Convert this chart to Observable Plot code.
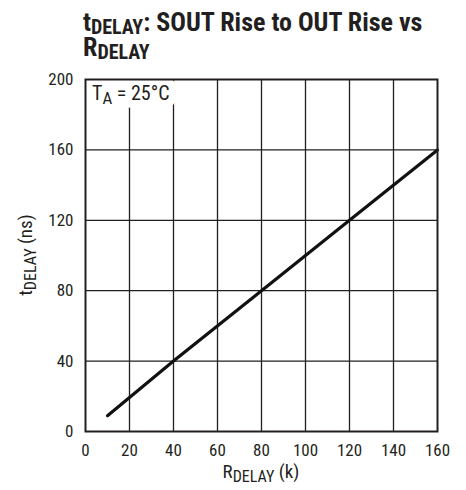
<!DOCTYPE html>
<html><head><meta charset="utf-8">
<script src="https://cdn.jsdelivr.net/npm/d3@7"></script>
<script src="https://cdn.jsdelivr.net/npm/@observablehq/plot@0.6"></script>
<style>
body{margin:0;background:#fff;font-family:"Roboto Condensed",sans-serif;color:#231f20;}
#title{height:70px;box-sizing:border-box;padding-left:83px;padding-top:10px;font-weight:bold;font-size:26px;line-height:25px;white-space:nowrap;}
#title sub{font-size:20px;vertical-align:baseline;position:relative;top:3px;line-height:0;}
</style></head>
<body>
<div id="title">t<sub>DELAY</sub>: SOUT Rise to OUT Rise vs<br>R<sub>DELAY</sub></div>
<div id="chart"></div>
<script>
const rDelay = [10, 40, 80, 120, 160];
const tDelay = [9, 40, 80, 120, 160];
const xTicks = [0, 20, 40, 60, 80, 100, 120, 140, 160];
const yTicks = [0, 40, 80, 120, 160, 200];
const xGrid = [20, 40, 60, 80, 100, 120, 140];
const yGrid = [40, 80, 120, 160];
const xLabel = ["R", "DELAY", " (k)"];
const yLabel = ["t", "DELAY", " (ns)"];
const annot = ["T", "A", " = 25°C"];

const data = rDelay.map((r, i) => ({r, t: tDelay[i]}));
const font = '"Roboto Condensed",sans-serif';

const chart = Plot.plot({
  width: 466, height: 420,
  marginTop: 9, marginLeft: 85, marginRight: 29, marginBottom: 59,
  style: {fontFamily: font, fontSize: "17px", color: "#231f20", background: "#fff", overflow: "visible"},
  x: {domain: [0, 160]},
  y: {domain: [0, 200]},
  marks: [
    Plot.gridX(xGrid, {stroke: "#231f20", strokeOpacity: 1, strokeWidth: 1.3}),
    Plot.gridY(yGrid, {stroke: "#231f20", strokeOpacity: 1, strokeWidth: 1.3}),
    Plot.axisX(xTicks, {tickSize: 0, tickPadding: 12, label: null, fontSize: 17}),
    Plot.axisY(yTicks, {tickSize: 0, tickPadding: 12, label: null, fontSize: 17}),
    Plot.line(data, {x: "r", y: "t", stroke: "#111", strokeWidth: 3.2}),
    Plot.frame({stroke: "#231f20", strokeWidth: 2})
  ]
});
document.getElementById("chart").appendChild(chart);

const svg = d3.select(chart);
const sx = chart.scale("x"), sy = chart.scale("y");
function sub(sel, parts, main, small, shift) {
  sel.append("tspan").attr("font-size", main).text(parts[0]);
  sel.append("tspan").attr("font-size", small).attr("dy", shift).text(parts[1]);
  sel.append("tspan").attr("font-size", main).attr("dy", -shift).text(parts[2]);
}
// x label
const xl = svg.append("text")
  .attr("x", (sx.apply(0) + sx.apply(160)) / 2)
  .attr("y", sy.apply(0) + 47)
  .attr("text-anchor", "middle").attr("fill", "#231f20")
  .attr("font-family", font);
sub(xl, xLabel, 19, 16, 4);
// y label
const yl = svg.append("text")
  .attr("transform", `translate(32,${(sy.apply(0) + sy.apply(200)) / 2}) rotate(-90)`)
  .attr("text-anchor", "middle").attr("fill", "#231f20")
  .attr("font-family", font);
sub(yl, yLabel, 19, 16, 4);
// annotation: a white halo copy (hides grid lines only), then the text itself,
// both placed beneath the axes and frame
const firstAxis = chart.querySelector("g[aria-label^='x-axis']");
const g = document.createElementNS("http://www.w3.org/2000/svg", "g");
chart.insertBefore(g, firstAxis);
const gs = d3.select(g).attr("font-family", font).attr("text-anchor", "start");
const ax = sx.apply(0) + 7, ay = sy.apply(200) + 21;
const halo = gs.append("text").attr("x", ax).attr("y", ay)
  .attr("fill", "#fff").attr("stroke", "#fff").attr("stroke-width", 16)
  .attr("stroke-linejoin", "round").attr("aria-hidden", "true");
sub(halo, annot, 20, 17, 4);
const an = gs.append("text").attr("x", ax).attr("y", ay).attr("fill", "#231f20");
sub(an, annot, 20, 17, 4);
</script>
</body></html>
